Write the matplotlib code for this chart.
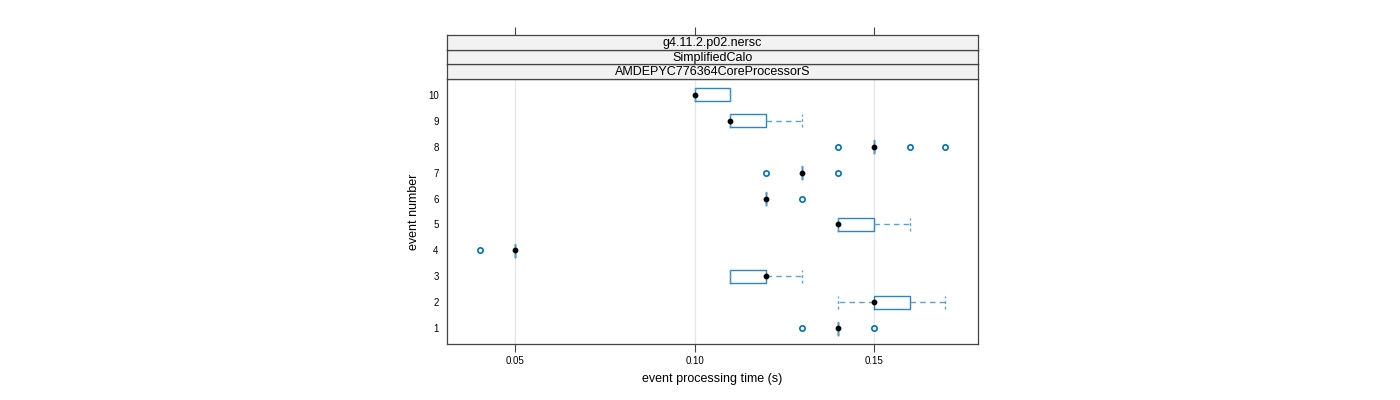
import numpy as np
import matplotlib
matplotlib.use("Agg")
import matplotlib.pyplot as plt

plt.rcParams['font.family'] = ['Liberation Sans', 'DejaVu Sans']

# box statistics per event (seconds)
events = [1, 2, 3, 4, 5, 6, 7, 8, 9, 10]
q1 = [0.14, 0.15, 0.11, 0.05, 0.14, 0.12, 0.13, 0.15, 0.11, 0.10]
med = [0.14, 0.15, 0.12, 0.05, 0.14, 0.12, 0.13, 0.15, 0.11, 0.10]
q3 = [0.14, 0.16, 0.12, 0.05, 0.15, 0.12, 0.13, 0.15, 0.12, 0.11]
whislo = [0.14, 0.14, 0.11, 0.05, 0.14, 0.12, 0.13, 0.15, 0.11, 0.10]
whishi = [0.14, 0.17, 0.13, 0.05, 0.16, 0.12, 0.13, 0.15, 0.13, 0.11]
fliers = [[0.13, 0.15], [], [], [0.04], [], [0.13], [0.12, 0.14],
          [0.14, 0.16, 0.17], [], []]

strips = ["g4.11.2.p02.nersc", "SimplifiedCalo", "AMDEPYC776364CoreProcessorS"]
xticks = [0.05, 0.10, 0.15]
xticklabels = ["0.05", "0.10", "0.15"]

BLUE = '#2a87c4'
PTS = '#0072b2'

fig = plt.figure(figsize=(14, 4), dpi=100)
ax = fig.add_axes([0.3193, 0.14, 0.3793, 0.6625])

stats = []
for i in range(len(events)):
    stats.append(dict(med=med[i], q1=q1[i], q3=q3[i], whislo=whislo[i],
                      whishi=whishi[i], fliers=np.array(fliers[i])))

ax.bxp(stats, positions=events, widths=0.5, capwidths=0.5,
       orientation='horizontal', showfliers=True,
       boxprops=dict(color=BLUE, linewidth=1.0),
       whiskerprops=dict(color='#5aa3d4', linewidth=1.0, linestyle=(0, (4, 3))),
       capprops=dict(color='#5aa3d4', linewidth=1.0, linestyle=(0, (2, 2))),
       medianprops=dict(linestyle='none'),
       flierprops=dict(marker='o', markersize=3.8, markerfacecolor='none',
                       markeredgecolor=PTS, markeredgewidth=1.2))
ax.scatter(med, events, s=10, color='black', zorder=5)

for xv in xticks:
    ax.axvline(xv, color='#e6e6e6', linewidth=0.9, zorder=0)

ax.set_xlim(0.0309, 0.1791)
ax.set_ylim(0.4, 10.6)
ax.set_xticks(xticks)
ax.set_xticklabels(xticklabels, fontsize=7)
ax.set_yticks(events)
ax.set_yticklabels([str(e) for e in events], fontsize=7)
ax.tick_params(axis='x', direction='out', length=6, width=0.8, color='#444444', pad=3)
ax.tick_params(axis='y', length=0, pad=6)
for sp in ax.spines.values():
    sp.set_color('#444444')
    sp.set_linewidth(0.9)
ax.set_xlabel("event processing time (s)", fontsize=9, labelpad=5)
ax.set_ylabel("event number", fontsize=9, labelpad=6)

# strips on top of the panel
h = 0.0367
for k, name in enumerate(reversed(strips)):
    sax = fig.add_axes([0.3193, 0.8025 + k * h, 0.3793, h])
    sax.set_facecolor('#f2f2f2')
    sax.set_xlim(ax.get_xlim())
    sax.set_yticks([])
    sax.set_xticks([])
    for sp in sax.spines.values():
        sp.set_color('#444444')
        sp.set_linewidth(0.9)
    sax.text(0.5, 0.45, name, transform=sax.transAxes, ha='center',
             va='center', fontsize=9)
    if k == len(strips) - 1:
        sax.set_xticks(xticks)
        sax.tick_params(axis='x', top=True, bottom=False, labeltop=False,
                        labelbottom=False, direction='out', length=6,
                        width=0.8, color='#444444')

fig.savefig("out.png", dpi=100)
